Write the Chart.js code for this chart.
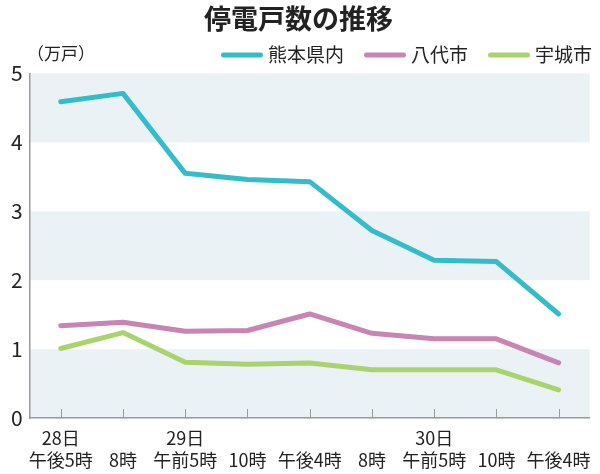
<!DOCTYPE html>
<html>
<head>
<meta charset="utf-8">
<script src="https://cdn.jsdelivr.net/npm/chart.js@4.4.0/dist/chart.umd.min.js"></script>
<style>
    html, body { margin: 0; padding: 0; background: #fff; }
    #chart { display: block; }
</style>
</head>
<body>
<canvas id="chart" width="600" height="474"></canvas>
<script>
// Data
const dayLabels = ['28日', '', '29日', '', '', '', '30日', '', ''];
const timeLabels = ['午後5時', '8時', '午前5時', '10時', '午後4時', '8時', '午前5時', '10時', '午後4時'];
const seriesNames = ['熊本県内', '八代市', '宇城市'];
const kumamoto = [4.59, 4.71, 3.55, 3.46, 3.43, 2.72, 2.29, 2.27, 1.51];
const yatsushiro = [1.34, 1.39, 1.26, 1.27, 1.51, 1.23, 1.15, 1.15, 0.80];
const uki = [1.01, 1.24, 0.81, 0.78, 0.80, 0.70, 0.70, 0.70, 0.41];
const yTicks = [0, 1, 2, 3, 4, 5];

const COLORS = ['#34bccb', '#c884b3', '#a9d36c'];
const FONT = "'Noto Sans CJK JP', 'Noto Sans', sans-serif";
const BAND = '#ebf2f6';
const AXIS = '#9a9a9a';

// shaded bands, small ticks, unit label and legend
const decorPlugin = {
    id: 'decor',
    beforeDraw(chart) {
        const { ctx, chartArea, scales } = chart;
        const y = scales.y;
        ctx.save();
        ctx.fillStyle = BAND;
        for (let v = 0; v < yTicks[yTicks.length - 1]; v += 2) {
            const top = y.getPixelForValue(v + 1);
            const bottom = y.getPixelForValue(v);
            ctx.fillRect(chartArea.left, top, chartArea.right - chartArea.left, bottom - top);
        }
        ctx.restore();
    },
    afterDraw(chart) {
        const { ctx, chartArea, scales } = chart;
        const x = scales.x;
        ctx.save();
        ctx.strokeStyle = AXIS;
        ctx.lineWidth = 1;
        x.ticks.forEach((t, i) => {
            const px = Math.round(x.getPixelForTick(i)) + 0.5;
            ctx.beginPath();
            ctx.moveTo(px, chartArea.bottom);
            ctx.lineTo(px, chartArea.bottom - 9);
            ctx.stroke();
        });

        // unit
        ctx.fillStyle = '#222';
        ctx.font = '17px ' + FONT;
        ctx.textBaseline = 'middle';
        ctx.textAlign = 'left';
        ctx.fillText('（万戸）', 27, 54);

        // legend, right aligned
        ctx.font = '19px ' + FONT;
        const lineLen = 42, gap = 5, itemGap = 20, ly = 55;
        let right = 592;
        const datasets = chart.data.datasets;
        for (let i = datasets.length - 1; i >= 0; i--) {
            const tw = ctx.measureText(datasets[i].label).width;
            const textX = right - tw;
            ctx.fillStyle = '#222';
            ctx.fillText(datasets[i].label, textX, ly);
            ctx.strokeStyle = datasets[i].borderColor;
            ctx.lineWidth = 5;
            ctx.lineCap = 'round';
            ctx.beginPath();
            ctx.moveTo(textX - gap - lineLen + 2.5, ly);
            ctx.lineTo(textX - gap - 2.5, ly);
            ctx.stroke();
            right = textX - gap - lineLen - itemGap;
        }
        ctx.restore();
    }
};

const ctx = document.getElementById('chart').getContext('2d');
new Chart(ctx, {
    type: 'line',
    data: {
        labels: dayLabels.map((d, i) => [d, timeLabels[i]]),
        datasets: [kumamoto, yatsushiro, uki].map((vals, i) => ({
            label: seriesNames[i],
            data: vals,
            borderColor: COLORS[i],
            backgroundColor: COLORS[i],
            borderWidth: 5,
            pointRadius: 0,
            tension: 0,
            borderCapStyle: 'round',
            borderJoinStyle: 'round',
            fill: false
        }))
    },
    options: {
        responsive: false,
        animation: false,
        layout: {
            padding: { left: 4, right: 7, top: 0, bottom: -6 }
        },
        plugins: {
            title: {
                display: true,
                text: '停電戸数の推移',
                color: '#222',
                font: { family: FONT, size: 27, weight: 'bold' },
                padding: { top: 3, bottom: 38 }
            },
            legend: { display: false },
            tooltip: { enabled: false }
        },
        scales: {
            x: {
                offset: true,
                grid: { display: false, drawTicks: false },
                border: { color: AXIS, width: 1.5 },
                ticks: {
                    color: '#222',
                    font: { family: FONT, size: 18, lineHeight: 1.22 },
                    padding: 9,
                    maxRotation: 0,
                    autoSkip: false
                }
            },
            y: {
                min: 0,
                max: 5,
                grid: { display: false, drawTicks: false },
                border: { color: AXIS, width: 1.5 },
                ticks: {
                    stepSize: 1,
                    color: '#222',
                    font: { family: FONT, size: 21 },
                    padding: 7
                }
            }
        }
    },
    plugins: [decorPlugin]
});
</script>
</body>
</html>
